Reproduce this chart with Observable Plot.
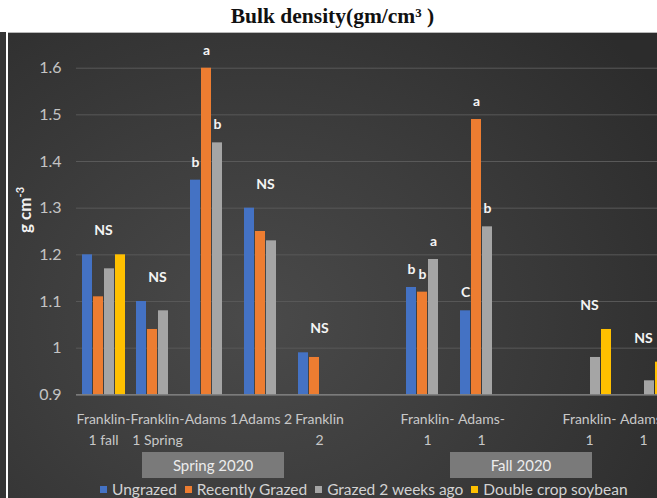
<!DOCTYPE html>
<html>
<head>
<meta charset="utf-8">
<script src="https://cdn.jsdelivr.net/npm/d3@7"></script>
<script src="https://cdn.jsdelivr.net/npm/@observablehq/plot@0.6"></script>
<style>
  html, body { margin: 0; padding: 0; background: #fff; }
  #wrap { position: relative; width: 657px; height: 498px; overflow: hidden; background: #fff; }
  #title { position: absolute; top: 0; left: 8px; width: 649px; height: 32px; text-align: center;
           font: bold 21.5px "Liberation Serif", "Times New Roman", serif; line-height: 33px; color: #111; }
  #topline { position: absolute; left: 8px; top: 32px; width: 649px; height: 1px; background: #b8b8b8; }
  #strip { position: absolute; left: 0; top: 32px; width: 6px; height: 466px; background: #353535; }
  #vline { position: absolute; left: 6px; top: 32px; width: 2px; height: 466px; background: #fff; }
  #panel { position: absolute; left: 8px; top: 33px; width: 649px; height: 465px; overflow: hidden;
           background: radial-gradient(ellipse 75% 90% at 38% 62%, #4a4a4a 0%, #3d3d3d 45%, #2c2c2c 100%); }
  #ylab { position: absolute; left: 24px; top: 210px; transform: translate(-50%, -50%) rotate(-90deg);
          font: bold 17px Lato, "Open Sans", sans-serif; color: #f2f2f2; white-space: nowrap; }
  #ylab sup { font-size: 11px; }
  .gbox { position: absolute; top: 452px; width: 142px; height: 26px; background: #7a7a7a;
          color: #ececec; font: 15px Lato, "Open Sans", sans-serif; text-align: center; line-height: 26px; }
  #legend { position: absolute; left: 100px; top: 480px; display: flex; gap: 8px; white-space: nowrap;
            font: 15.5px Lato, "Open Sans", sans-serif; color: #d2d2d2; line-height: 18px; }
  #legend span.sw { display: inline-block; width: 7px; height: 7px; margin-right: 5px; vertical-align: 2px; }
</style>
</head>
<body>
<div id="wrap">
  <div id="title">Bulk density(gm/cm³ )</div>
  <div id="strip"></div>
  <div id="vline"></div>
  <div id="panel"></div>
  <div id="topline"></div>
  <div id="ylab">g cm<sup>-3</sup></div>
  <div class="gbox" style="left:142px">Spring 2020</div>
  <div class="gbox" style="left:450px">Fall 2020</div>
  <div id="legend"></div>
</div>
<script>
// ---- data ----
const categoryKeys = ["F1fall", "F1spring", "A1spring", "A2spring", "F2spring", "gap1",
                      "F1fall20", "A1fall20", "gap2", "F1soy", "A1soy"];
const categoryLabels = ["Franklin-\n1 fall", "Franklin-\n1 Spring", "Adams 1", "Adams 2", "Franklin\n2", "",
                        "Franklin-\n1", "Adams-\n1", "", "Franklin-\n1", "Adams-\n1"];
const seriesNames = ["Ungrazed", "Recently Grazed", "Grazed 2 weeks ago", "Double crop soybean"];
const seriesColors = ["#4472C4", "#ED7D31", "#A5A5A5", "#FFC000"];
const ungrazed       = [1.20, 1.10, 1.36, 1.30, 0.99, null, 1.13, 1.08, null, null, null];
const recentlyGrazed = [1.11, 1.04, 1.60, 1.25, 0.98, null, 1.12, 1.49, null, null, null];
const grazed2Weeks   = [1.17, 1.08, 1.44, 1.23, null, null, 1.19, 1.26, null, 0.98, 0.93];
const doubleCrop     = [1.20, null, null, null, null, null, null, null, null, 1.04, 0.97];
const yTicks = [0.9, 1.0, 1.1, 1.2, 1.3, 1.4, 1.5, 1.6];
// significance letters: [category, series, letter]
const letterCats   = ["A1spring", "A1spring", "A1spring", "F1fall20", "F1fall20", "F1fall20", "A1fall20", "A1fall20", "A1fall20"];
const letterSeries = ["Ungrazed", "Recently Grazed", "Grazed 2 weeks ago", "Ungrazed", "Recently Grazed", "Grazed 2 weeks ago", "Ungrazed", "Recently Grazed", "Grazed 2 weeks ago"];
const letterTexts  = ["b", "a", "b", "b", "b", "a", "C", "a", "b"];
const nsCats = ["F1fall", "F1spring", "A2spring", "F2spring", "F1soy", "A1soy"];

// ---- build tables ----
const seriesValues = [ungrazed, recentlyGrazed, grazed2Weeks, doubleCrop];
const bars = [];
categoryKeys.forEach((k, i) => {
  seriesNames.forEach((s, j) => {
    const v = seriesValues[j][i];
    if (v != null) bars.push({key: k, series: s, value: v});
  });
});
const lookup = (k, s) => bars.find(d => d.key === k && d.series === s).value;
const letters = letterCats.map((k, i) => ({key: k, series: letterSeries[i], value: lookup(k, letterSeries[i]), text: letterTexts[i]}));
const ns = nsCats.map(k => ({key: k, value: d3.max(bars.filter(d => d.key === k), d => d.value), text: "NS"}));
const cats = categoryKeys.map((k, i) => ({key: k, label: categoryLabels[i]}));

const chart = Plot.plot({
  width: 670,
  height: 465,
  marginLeft: 68,
  marginRight: 8,
  marginTop: 34.7,
  marginBottom: 103.7,
  style: {background: "transparent", maxWidth: "none", overflow: "visible", fontFamily: "Lato, 'Open Sans', sans-serif"},
  fx: {domain: categoryKeys, padding: 0, axis: null, label: null},
  x: {domain: seriesNames, paddingInner: 0.12, paddingOuter: 0.4, axis: null},
  y: {domain: [0.9, 1.6], axis: null},
  color: {domain: seriesNames, range: seriesColors},
  marks: [
    Plot.ruleY(yTicks.filter(t => t > 0.9), {stroke: "#595959", strokeWidth: 1}),
    Plot.barY(bars, {fx: "key", x: "series", y1: 0.9, y2: "value", fill: "series"}),
    Plot.ruleY([0.9], {stroke: "#8e8e8e", strokeWidth: 1.2}),
    Plot.axisY({ticks: yTicks, tickFormat: d => String(+d.toFixed(1)), tickSize: 0, tickPadding: 15,
                fontSize: 16, color: "#c4c4c4", label: null}),
    Plot.text(cats, {fx: "key", text: "label", frameAnchor: "bottom", dy: 14, lineAnchor: "top",
                     lineHeight: 1.5, fontSize: 14, fill: "#c8c8c8"}),
    Plot.text(letters, {fx: "key", x: "series", y: "value", text: "text", dy: -18,
                        fontSize: 14, fontWeight: "bold", fill: "#f4f4f4"}),
    Plot.text(ns, {fx: "key", y: "value", text: "text", dy: -24,
                   fontSize: 14, fontWeight: "bold", fill: "#f4f4f4"})
  ]
});
document.getElementById("panel").appendChild(chart);

const legend = document.getElementById("legend");
seriesNames.forEach((s, i) => {
  const item = document.createElement("div");
  item.innerHTML = `<span class="sw" style="background:${seriesColors[i]}"></span>${s}`;
  legend.appendChild(item);
});
</script>
</body>
</html>
